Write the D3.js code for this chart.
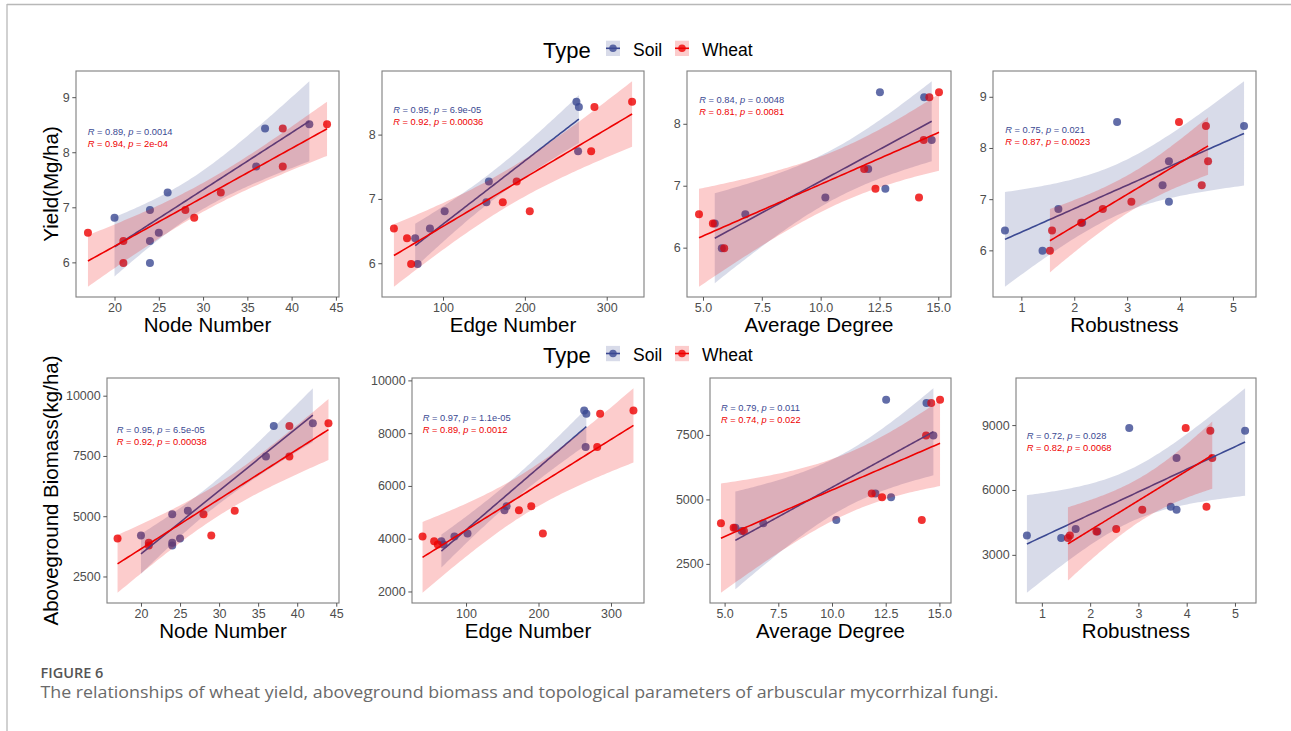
<!DOCTYPE html>
<html><head><meta charset="utf-8">
<script src="https://cdn.jsdelivr.net/npm/d3@7"></script>
<style>
body{margin:0;background:#fff;}
svg text{font-family:"Liberation Sans",Arial,sans-serif;}
</style>
</head><body>
<svg id="chart" width="1291" height="731"></svg>
<script>
// ---------- DATA ----------
// sample-wise response values (same 9 plots for Soil and Wheat)
const yieldValues   = [5.99, 6.39, 6.54, 6.81, 6.95, 7.27, 7.74, 8.43, 8.51];
const biomassValues = [3780, 3900, 4080, 4200, 5080, 5230, 7480, 8740, 8860];
// topological parameters, Soil
const soilNode   = [24, 24, 25, 20, 24, 26, 36, 37, 42];
const soilEdge   = [69, 66, 84, 102, 153, 156, 265, 266, 263];
const soilDegree = [5.8, 5.5, 6.8, 10.2, 12.75, 12.02, 14.72, 14.4, 12.52];
const soilRobust = [1.4, 0.69, 2.15, 1.7, 3.79, 3.67, 3.79, 5.21, 2.81];
// topological parameters, Wheat
const wheatNode   = [21, 21, 17, 29, 28, 32, 39, 39, 44];
const wheatEdge   = [61, 56, 40, 206, 173, 190, 281, 285, 331];
const wheatDegree = [5.9, 5.42, 4.83, 14.18, 12.33, 11.85, 14.38, 14.62, 15.03];
const wheatRobust = [1.54, 1.58, 2.13, 2.54, 3.08, 4.41, 4.53, 4.49, 3.98];

const groups = ["Soil", "Wheat"];
const xTitles = ["Node Number", "Edge Number", "Average Degree", "Robustness"];
const yTitles = ["Yield(Mg/ha)", "Aboveground Biomass(kg/ha)"];
const xTicksNode = [20, 25, 30, 35, 40, 45];
const xTicksEdge = [100, 200, 300];
const xTicksDegree = [5, 7.5, 10, 12.5, 15];
const xTicksRobust = [1, 2, 3, 4, 5];
const yTicksYield = [[6, 7, 8, 9], [6, 7, 8], [6, 7, 8], [6, 7, 8, 9]];
const yTicksBiomass = [[2500, 5000, 7500, 10000], [2000, 4000, 6000, 8000, 10000], [2500, 5000, 7500], [3000, 6000, 9000]];
const soilCor = [["0.89","0.0014"],["0.95","6.9e-05"],["0.84","0.0048"],["0.75","0.021"],
                 ["0.95","6.5e-05"],["0.97","1.1e-05"],["0.79","0.011"],["0.72","0.028"]];
const wheatCor = [["0.94","2e-04"],["0.92","0.00036"],["0.81","0.0081"],["0.87","0.0023"],
                  ["0.92","0.00038"],["0.89","0.0012"],["0.74","0.022"],["0.82","0.0068"]];
const captionLabel = "FIGURE 6";
const captionText = "The relationships of wheat yield, aboveground biomass and topological parameters of arbuscular mycorrhizal fungi.";

// ---------- LAYOUT / STYLE ----------
const FONT = "'Liberation Sans', Arial, sans-serif";
const colors = {Soil: "#3B4992", Wheat: "#EE0000"};
const panelBoxes = [[76,71,339,297],[382,71,644,297],[687,71,951,297],[993,71,1256,297],
                    [107,378,339,603],[412,378,644,603],[710,378,951,603],[1016,378,1256,603]];
const corOffsets = [[11.7,60.7],[11.3,39],[12.3,29],[12.3,59],[9.7,51.3],[10.7,39.3],[11,29.3],[10.7,57.3]];
const legendTops = [40.7, 345.9];
const tCrit = 2.364624; // t quantile (0.975, df = 7) used by lm 95% CI

const svg = d3.select("#chart");

// frame lines from the page
svg.append("line").attr("x1",7).attr("x2",1291).attr("y1",4.5).attr("y2",4.5).attr("stroke","#b8b8b8").attr("stroke-width",1.3);
svg.append("line").attr("x1",7).attr("x2",7).attr("y1",4).attr("y2",731).attr("stroke","#b8b8b8").attr("stroke-width",1.3);

function fitLm(xs, ys) {
  const n = xs.length, mx = d3.mean(xs), my = d3.mean(ys);
  let sxx = 0, sxy = 0;
  xs.forEach((x, i) => { sxx += (x - mx) ** 2; sxy += (x - mx) * (ys[i] - my); });
  const b = sxy / sxx, a = my - b * mx;
  let sse = 0;
  xs.forEach((x, i) => { sse += (ys[i] - a - b * x) ** 2; });
  const s = Math.sqrt(sse / (n - 2));
  const [x0, x1] = d3.extent(xs);
  return d3.range(80).map(k => {
    const x = x0 + (x1 - x0) * k / 79;
    const yh = a + b * x;
    const se = s * Math.sqrt(1 / n + (x - mx) ** 2 / sxx);
    return {x, y: yh, lo: yh - tCrit * se, hi: yh + tCrit * se};
  });
}

const xSets = [
  {Soil: soilNode, Wheat: wheatNode, ticks: xTicksNode, fmt: d3.format("d")},
  {Soil: soilEdge, Wheat: wheatEdge, ticks: xTicksEdge, fmt: d3.format("d")},
  {Soil: soilDegree, Wheat: wheatDegree, ticks: xTicksDegree, fmt: d3.format(".1f")},
  {Soil: soilRobust, Wheat: wheatRobust, ticks: xTicksRobust, fmt: d3.format("d")}
];
const ySets = [yieldValues, biomassValues];

function expand(ext) { const r = ext[1] - ext[0]; return [ext[0] - 0.05 * r, ext[1] + 0.05 * r]; }

for (let p = 0; p < 8; p++) {
  const row = Math.floor(p / 4), col = p % 4;
  const [L, T, R, B] = panelBoxes[p];
  const xs = xSets[col], ys = ySets[row];
  const fits = {};
  groups.forEach(g => fits[g] = fitLm(xs[g], ys));
  const allX = xs.Soil.concat(xs.Wheat);
  const allY = ys.concat(ys);
  groups.forEach(g => fits[g].forEach(d => { allY.push(d.lo, d.hi); }));
  const x = d3.scaleLinear().domain(expand(d3.extent(allX))).range([L, R]);
  const y = d3.scaleLinear().domain(expand(d3.extent(allY))).range([B, T]);

  const gP = svg.append("g");
  // points (drawn first, under smooths)
  groups.forEach(g => {
    gP.selectAll(null).data(xs[g].map((v, i) => [v, ys[i]])).enter().append("circle")
      .attr("cx", d => x(d[0])).attr("cy", d => y(d[1])).attr("r", 4)
      .attr("fill", colors[g]).attr("fill-opacity", 0.8);
  });
  // smooths: ribbon + line per group
  groups.forEach(g => {
    gP.append("path").datum(fits[g])
      .attr("d", d3.area().x(d => x(d.x)).y0(d => y(d.lo)).y1(d => y(d.hi)))
      .attr("fill", colors[g]).attr("fill-opacity", 0.2);
    gP.append("path").datum(fits[g])
      .attr("d", d3.line().x(d => x(d.x)).y(d => y(d.y)))
      .attr("fill", "none").attr("stroke", colors[g]).attr("stroke-width", 1.6);
  });
  // border
  gP.append("rect").attr("x", L).attr("y", T).attr("width", R - L).attr("height", B - T)
    .attr("fill", "none").attr("stroke", "#7f7f7f").attr("stroke-width", 1.1);
  // axes
  const ax = svg.append("g").attr("transform", `translate(0,${B})`)
    .call(d3.axisBottom(x).tickValues(xs.ticks).tickFormat(xs.fmt).tickSize(3.7).tickPadding(2.4).tickSizeOuter(0));
  const ay = svg.append("g").attr("transform", `translate(${L},0)`)
    .call(d3.axisLeft(y).tickValues(row === 0 ? yTicksYield[col] : yTicksBiomass[col]).tickFormat(d3.format("d")).tickSize(3.7).tickPadding(2.6).tickSizeOuter(0));
  [ax, ay].forEach(a => {
    a.attr("font-family", FONT);
    a.select(".domain").remove();
    a.selectAll(".tick line").attr("stroke", "#555").attr("stroke-width", 1);
    a.selectAll(".tick text").attr("fill", "#4d4d4d").style("font-size", "12.5px").style("font-family", FONT);
  });
  // x title
  svg.append("text").attr("x", (L + R) / 2).attr("y", B + 34.5).attr("text-anchor", "middle")
    .style("font-size", "20.5px").attr("fill", "#000").text(xTitles[col]);
  // y title
  if (col === 0) {
    const cy = (T + B) / 2;
    svg.append("text").attr("transform", `translate(58,${cy}) rotate(-90)`).attr("text-anchor", "middle")
      .style("font-size", "20.5px").attr("fill", "#000").text(yTitles[row]);
  }
  // correlation labels
  [[soilCor[p], "Soil", 0], [wheatCor[p], "Wheat", 12]].forEach(([c, g, dy]) => {
    const t = svg.append("text").attr("x", L + corOffsets[p][0]).attr("y", T + corOffsets[p][1] + dy + 3.3)
      .attr("fill", colors[g]).style("font-size", "9.3px");
    t.append("tspan").style("font-style", "italic").text("R");
    t.append("tspan").text(` = ${c[0]}, `);
    t.append("tspan").style("font-style", "italic").text("p");
    t.append("tspan").text(` = ${c[1]}`);
  });
}

// legends
legendTops.forEach(top => {
  const g = svg.append("g");
  g.append("text").attr("x", 543).attr("y", top + 17.3).style("font-size", "22px").attr("fill", "#000").text("Type");
  const keyX = {Soil: 606, Wheat: 675}, labX = {Soil: 633, Wheat: 702};
  groups.forEach(k => {
    g.append("rect").attr("x", keyX[k]).attr("y", top).attr("width", 14).attr("height", 15.3)
      .attr("fill", colors[k]).attr("fill-opacity", 0.2);
    g.append("line").attr("x1", keyX[k]).attr("x2", keyX[k] + 14).attr("y1", top + 7.6).attr("y2", top + 7.6)
      .attr("stroke", colors[k]).attr("stroke-width", 1.6);
    g.append("circle").attr("cx", keyX[k] + 7).attr("cy", top + 7.6).attr("r", 3.8)
      .attr("fill", colors[k]).attr("fill-opacity", 0.8);
    g.append("text").attr("x", labX[k]).attr("y", top + 15.3).style("font-size", "17.5px").attr("fill", "#000").text(k);
  });
});

// caption
svg.append("text").attr("x", 40.5).attr("y", 678.3).style("font-family", "'Open Sans', sans-serif")
  .style("font-weight", 600).style("font-size", "14.5px").attr("fill", "#555").text(captionLabel);
svg.append("text").attr("x", 40.5).attr("y", 697.7).style("font-family", "'Open Sans', sans-serif")
  .style("font-size", "16px").attr("fill", "#6a6a6a")
  .attr("textLength", 958).attr("lengthAdjust", "spacingAndGlyphs").text(captionText);
</script>
</body></html>
